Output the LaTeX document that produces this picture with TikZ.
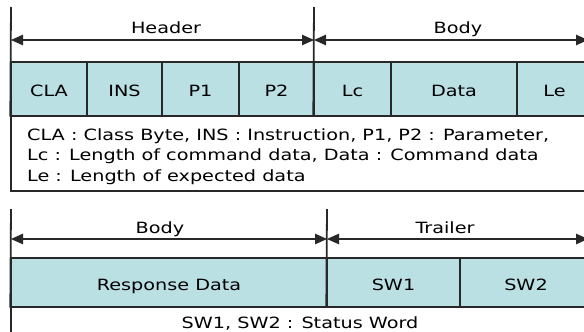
\documentclass[tikz,border=0pt]{standalone}
\usepackage{fontspec}
\setmainfont{DejaVu Sans}[FakeStretch=1.24]
\usetikzlibrary{arrows.meta}
\definecolor{cellfill}{RGB}{186,224,228}
\definecolor{ink}{RGB}{40,40,40}
\tikzset{
  cell/.style={draw=ink, line width=1.4pt, fill=cellfill, inner sep=0pt,
    text depth=0pt, font=\fontsize{15.5}{18}\selectfont},
  label/.style={inner sep=0pt, font=\fontsize{15.5}{18}\selectfont},
  divider/.style={draw=ink, line width=1.8pt},
  dim/.style={draw=ink, line width=1.1pt,
    {Triangle[length=12pt,width=10.5pt]}-{Triangle[length=12pt,width=10.5pt]}},
  notebox/.style={draw=ink, line width=1.4pt, fill=white},
}
\begin{document}
\begin{tikzpicture}[x=1pt,y=-1pt]
\useasboundingbox (0,0) rectangle (584,332);
\clip (0,0) rectangle (584,332);

% ---- Command APDU ----
\draw[notebox] (11,116) rectangle (600,191);
\node[label, anchor=base west] (cline1) at (27,140)
  {CLA : Class Byte, INS : Instruction, P1, P2 : Parameter,};
\node[label, anchor=base west] (cline2) at (27,160.5)
  {Lc : Length of command data, Data : Command data};
\node[label, anchor=base west] (cline3) at (27,181)
  {Le : Length of expected data};

\node[cell, minimum width=76pt, minimum height=54pt] (cla)  at (49,89)    {};
\node[cell, minimum width=75pt, minimum height=54pt] (ins)  at (124.5,89) {};
\node[cell, minimum width=77pt, minimum height=54pt] (p1)   at (200.5,89) {};
\node[cell, minimum width=75pt, minimum height=54pt] (p2)   at (276.5,89) {};
\node[cell, minimum width=77pt, minimum height=54pt] (lc)   at (352.5,89) {};
\node[cell, minimum width=126pt, minimum height=54pt] (data) at (454,89)  {};
\node[cell, minimum width=75pt, minimum height=54pt] (le)   at (554.5,89) {};
\foreach \c/\t in {cla/CLA, ins/INS, p1/P1, p2/P2, lc/Lc, data/Data, le/Le}
  \node[label, anchor=base] at (\c.center |- 0,96) {\t};

\coordinate (ctopL) at (11,7);
\coordinate (ctopM) at (314,7);
\draw[divider] (ctopL) -- (cla.south west);
\draw[divider] (ctopM) -- (lc.south west);

\coordinate (hL) at (11,40);
\coordinate (hM) at (314,40);
\coordinate (hR) at (588,40);
\draw[dim] (hL) -- (hM);
\draw[dim] (hM) -- (hR);
\node[label, anchor=base] (header) at (166,33) {Header};
\node[label, anchor=base] (cbody)  at (458,33) {Body};

% ---- Response APDU ----
\draw[notebox] (11,307) rectangle (600,345);
\node[label, anchor=base] (rnote) at (300,328) {SW1, SW2 : Status Word};

\node[cell, minimum width=316pt, minimum height=49pt] (resp) at (169,282.5)   {};
\node[cell, minimum width=133pt, minimum height=49pt] (sw1)  at (393.5,282.5) {};
\node[cell, minimum width=132pt, minimum height=49pt] (sw2)  at (526,282.5)   {};
\foreach \c/\t in {resp/Response Data, sw1/SW1, sw2/SW2}
  \node[label, anchor=base] at (\c.center |- 0,290) {\t};

\coordinate (rtopL) at (11,209);
\coordinate (rtopM) at (327,209);
\draw[divider] (rtopL) -- (resp.south west);
\draw[divider] (rtopM) -- (sw1.south west);

\coordinate (bL) at (11,239);
\coordinate (bM) at (327,239);
\coordinate (bR) at (588,239);
\draw[dim] (bL) -- (bM);
\draw[dim] (bM) -- (bR);
\node[label, anchor=base] (rbody)   at (160,233) {Body};
\node[label, anchor=base] (trailer) at (445,233) {Trailer};
\end{tikzpicture}
\end{document}
